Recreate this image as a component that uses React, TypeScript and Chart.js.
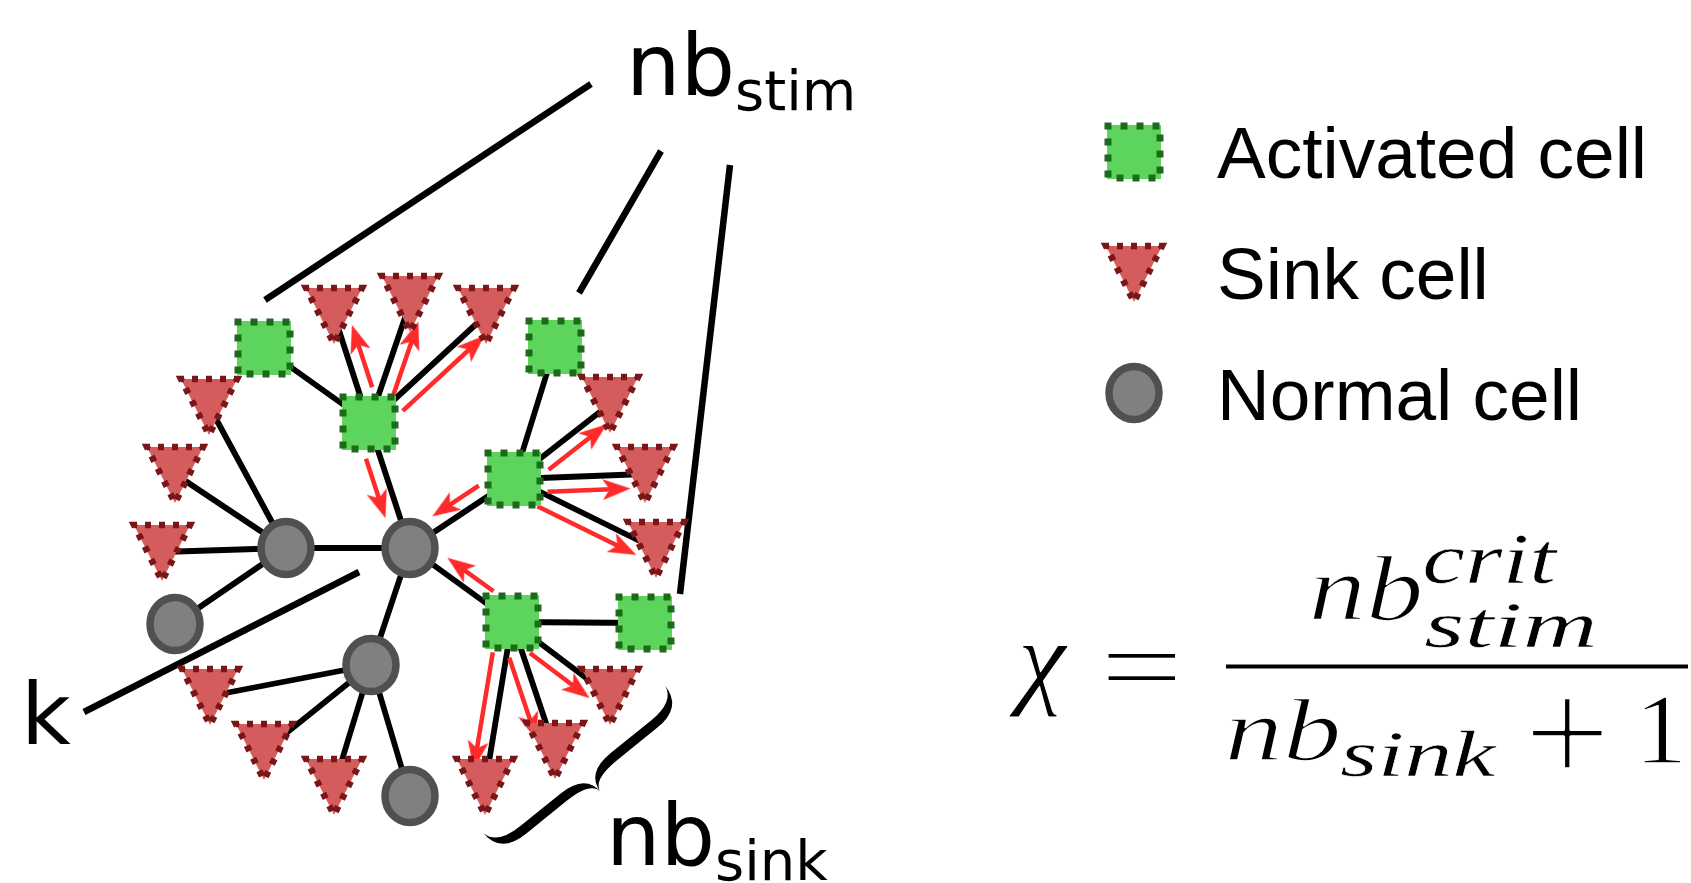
import React, { useEffect, useRef } from 'react';
import { Chart, registerables } from 'chart.js';

Chart.register(...registerables);

const WIDTH = 1691;
const HEIGHT = 883;

// ---- diagram data (positions in diagram units) ----
const activatedIds = ['A1', 'A2', 'A3', 'A4', 'A5', 'A6'];
const activatedX = [264, 369, 555, 514, 512, 645];
const activatedY = [348, 423, 347, 479, 622, 623];

const sinkIds = ['S1', 'S2', 'S3', 'S4', 'S5', 'S6', 'S7', 'S8', 'S9', 'S10', 'S11', 'S12', 'S13', 'S14', 'S15'];
const sinkX = [209, 175, 162, 334, 410, 486, 610, 645, 656, 210, 264, 334, 485, 555, 610];
const sinkY = [406, 474, 552, 315, 303, 315, 404, 474, 549, 696, 751, 786, 786, 750, 696];

const normalIds = ['N1', 'N2', 'N3', 'N4', 'N5'];
const normalX = [286, 410, 175, 371, 410];
const normalY = [548, 548, 624, 665, 796];

const edgeFrom = ['A1', 'A2', 'A2', 'A2', 'A2', 'N1', 'N1', 'N1', 'N1', 'N1', 'A3', 'A4', 'A4', 'A4', 'A4', 'N2', 'N2', 'A5', 'A5', 'A5', 'A5', 'N4', 'N4', 'N4', 'N4'];
const edgeTo = ['A2', 'S4', 'S5', 'S6', 'N2', 'S1', 'S2', 'S3', 'N2', 'N3', 'A4', 'S7', 'S8', 'S9', 'N2', 'A5', 'N4', 'A6', 'S13', 'S14', 'S15', 'S10', 'S11', 'S12', 'N5'];

const flowFrom = ['A2', 'A2', 'A2', 'A2', 'A4', 'A4', 'A4', 'A4', 'A5', 'A5', 'A5', 'A5'];
const flowTo = ['S4', 'S5', 'S6', 'N2', 'S7', 'S8', 'S9', 'N2', 'N2', 'S13', 'S14', 'S15'];

const pointerFromX = [591, 661, 730, 359];
const pointerFromY = [84, 151, 165, 572];
const pointerToX = [265, 579, 680, 84];
const pointerToY = [300, 293, 594, 712];

const legendLabels = ['Activated cell', 'Sink cell', 'Normal cell'];
const legendMarkerX = [1134, 1134, 1134];
const legendMarkerY = [152, 273, 393];
const legendBaselines = [178, 299, 420];
const legendTextX = 1217;

const labelMain = ['nb', 'k', 'nb'];
const labelSub = ['stim', '', 'sink'];
const labelX = [626, 21, 606];
const labelBaseline = [95, 744, 865];

const formulaTexts = ['χ', '=', 'nb', 'crit', 'stim', 'nb', 'sink', '+', '1'];
const formulaItalic = [true, false, true, true, true, true, true, false, false];
const formulaSize = [100, 100, 100, 70, 70, 100, 70, 100, 100];
const formulaThin = [1.0, 1.6, 1.8, 0.6, 0.6, 1.8, 0.6, 2.2, 1.6];
const formulaBoxes = [
  [1008, 645, 1069, 716],
  [1106, 652, 1177, 680],
  [1312, 556, 1420, 621],
  [1425, 535, 1558, 584],
  [1424, 603, 1594, 648],
  [1228, 699, 1338, 761],
  [1340, 730, 1498, 777],
  [1530, 697, 1604, 769],
  [1643, 698, 1681, 763],
];
const fractionBar = [1226, 1688, 666.5];

const braceEnds = [[485, 835], [667, 688]];
const braceDepth = 40;

// ---- helpers ----
function makeCanvas(w: number, h: number, draw: (c: CanvasRenderingContext2D) => void) {
  const cv = document.createElement('canvas');
  cv.width = w;
  cv.height = h;
  const c = cv.getContext('2d') as CanvasRenderingContext2D;
  draw(c);
  return cv;
}

function makeMarkers() {
  const square = makeCanvas(64, 64, (c) => {
    c.fillStyle = '#5dd55d';
    c.fillRect(5, 5, 54, 54);
    c.strokeStyle = '#1d6a1d';
    c.lineWidth = 7;
    c.setLineDash([7, 9]);
    c.lineDashOffset = 3.5;
    c.strokeRect(6, 6, 52, 52);
  });
  const triangle = makeCanvas(66, 66, (c) => {
    c.beginPath();
    c.moveTo(5, 6);
    c.lineTo(61, 6);
    c.lineTo(33, 62);
    c.closePath();
    c.fillStyle = '#d45c5c';
    c.fill();
    c.strokeStyle = '#7a1518';
    c.lineWidth = 6.5;
    c.lineJoin = 'miter';
    c.setLineDash([6, 8]);
    c.lineDashOffset = 3;
    c.stroke();
  });
  const circle = makeCanvas(64, 68, (c) => {
    c.beginPath();
    c.ellipse(32, 34, 25, 26.5, 0, 0, Math.PI * 2);
    c.fillStyle = '#808080';
    c.fill();
    c.strokeStyle = '#505050';
    c.lineWidth = 7.5;
    c.stroke();
  });
  const head = makeCanvas(28, 21, (c) => {
    c.beginPath();
    c.moveTo(28, 10.5);
    c.lineTo(0, 0);
    c.lineTo(7, 10.5);
    c.lineTo(0, 21);
    c.closePath();
    c.fillStyle = '#ff2a2a';
    c.fill();
  });
  return { square, triangle, circle, head };
}

function nodeLookup() {
  const m: Record<string, { x: number; y: number; kind: string }> = {};
  activatedIds.forEach((id, i) => (m[id] = { x: activatedX[i], y: activatedY[i], kind: 'activated' }));
  sinkIds.forEach((id, i) => (m[id] = { x: sinkX[i], y: sinkY[i], kind: 'sink' }));
  normalIds.forEach((id, i) => (m[id] = { x: normalX[i], y: normalY[i], kind: 'normal' }));
  return m;
}

function fitText(ctx: CanvasRenderingContext2D, text: string, font: string, box: number[], thin: number) {
  ctx.font = font;
  const m = ctx.measureText(text);
  const w = m.actualBoundingBoxLeft + m.actualBoundingBoxRight;
  const h = m.actualBoundingBoxAscent + m.actualBoundingBoxDescent;
  const sx = (box[2] - box[0]) / w;
  const sy = (box[3] - box[1]) / h;
  ctx.save();
  ctx.translate(box[0], box[1]);
  ctx.scale(sx, sy);
  ctx.fillStyle = '#000';
  ctx.fillText(text, m.actualBoundingBoxLeft, m.actualBoundingBoxAscent);
  if (thin > 0) {
    ctx.strokeStyle = '#fff';
    ctx.lineWidth = thin;
    ctx.lineJoin = 'round';
    ctx.strokeText(text, m.actualBoundingBoxLeft, m.actualBoundingBoxAscent);
  }
  ctx.restore();
}

function drawBrace(ctx: CanvasRenderingContext2D, x1: number, y1: number, x2: number, y2: number, D: number) {
  const L = Math.hypot(x2 - x1, y2 - y1);
  const ang = Math.atan2(y2 - y1, x2 - x1);
  const h = D * 0.5;
  const a = L * 0.14;
  const w = 4.8;
  ctx.save();
  ctx.translate(x1, y1);
  ctx.rotate(ang);
  const half = (s: number) => {
    const X = (x: number) => (s > 0 ? x : L - x);
    ctx.beginPath();
    ctx.moveTo(X(0), -3);
    ctx.quadraticCurveTo(X(0), h + w, X(a), h + w);
    ctx.lineTo(X(L / 2 - a), h + w);
    ctx.quadraticCurveTo(X(L / 2), h + w, X(L / 2), D);
    ctx.quadraticCurveTo(X(L / 2), h - w, X(L / 2 - a), h - w);
    ctx.lineTo(X(a), h - w);
    ctx.quadraticCurveTo(X(0) + (s > 0 ? 3 : -3), h - w, X(0), -3);
    ctx.closePath();
    ctx.fill();
  };
  half(1);
  half(-1);
  ctx.restore();
}

export default function App() {
  const ref = useRef<HTMLCanvasElement>(null);

  useEffect(() => {
    const canvas = ref.current;
    if (!canvas) return;
    const mk = makeMarkers();
    const nodes = nodeLookup();

    const edgeData: any[] = [];
    edgeFrom.forEach((f, i) => {
      const a = nodes[f];
      const b = nodes[edgeTo[i]];
      edgeData.push({ x: a.x, y: a.y }, { x: b.x, y: b.y }, { x: b.x, y: null });
    });

    const pointerData: any[] = [];
    pointerFromX.forEach((_, i) => {
      pointerData.push(
        { x: pointerFromX[i], y: pointerFromY[i] },
        { x: pointerToX[i], y: pointerToY[i] },
        { x: pointerToX[i], y: null }
      );
    });

    const shaftData: any[] = [];
    const headData: any[] = [];
    const headRot: number[] = [];
    const OFF = 14;
    const HEAD = 28;
    flowFrom.forEach((f, i) => {
      const a = nodes[f];
      const b = nodes[flowTo[i]];
      const dx = b.x - a.x;
      const dy = b.y - a.y;
      const len = Math.hypot(dx, dy);
      const ux = dx / len;
      const uy = dy / len;
      const nx = -uy;
      const ny = ux;
      const d0 = 33;
      const d1 = len - (b.kind === 'normal' ? 36 : 15);
      const tail = { x: a.x + ux * d0 + nx * OFF, y: a.y + uy * d0 + ny * OFF };
      const tip = { x: a.x + ux * d1 + nx * OFF, y: a.y + uy * d1 + ny * OFF };
      shaftData.push(tail, { x: tip.x - ux * HEAD * 0.7, y: tip.y - uy * HEAD * 0.7 }, { x: tip.x, y: null });
      headData.push({ x: tip.x - ux * HEAD / 2, y: tip.y - uy * HEAD / 2 });
      headRot.push((Math.atan2(uy, ux) * 180) / Math.PI);
    });

    const textPlugin = {
      id: 'diagramText',
      afterDatasetsDraw(chart: any) {
        const ctx: CanvasRenderingContext2D = chart.ctx;
        const sx = chart.scales.x;
        const sy = chart.scales.y;
        const px = (v: number) => sx.getPixelForValue(v);
        const py = (v: number) => sy.getPixelForValue(v);
        ctx.save();
        ctx.fillStyle = '#000';
        ctx.textAlign = 'left';
        ctx.textBaseline = 'alphabetic';

        drawBrace(ctx, px(braceEnds[0][0]), py(braceEnds[0][1]), px(braceEnds[1][0]), py(braceEnds[1][1]), braceDepth);

        labelMain.forEach((t, i) => {
          ctx.font = '86px "DejaVu Sans"';
          const x = px(labelX[i]);
          const y = py(labelBaseline[i]);
          ctx.fillText(t, x, y);
          if (labelSub[i]) {
            const w = ctx.measureText(t).width;
            ctx.font = '56px "DejaVu Sans"';
            ctx.fillText(labelSub[i], x + w, y + 15);
          }
        });

        ctx.font = '73px "Liberation Sans"';
        legendLabels.forEach((t, i) => {
          ctx.fillText(t, px(legendTextX), py(legendBaselines[i]));
        });

        formulaTexts.forEach((t, i) => {
          const b = formulaBoxes[i];
          const font = `${formulaItalic[i] ? 'italic ' : ''}${formulaSize[i]}px "Liberation Serif"`;
          fitText(ctx, t, font, [px(b[0]), py(b[1]), px(b[2]), py(b[3])], formulaThin[i]);
        });
        ctx.fillStyle = '#000';
        ctx.fillRect(px(fractionBar[0]), py(fractionBar[2]) - 2, px(fractionBar[1]) - px(fractionBar[0]), 4);
        ctx.restore();
      },
    };

    const chart = new Chart(canvas, {
      type: 'scatter',
      data: {
        datasets: [
          {
            data: pointerData,
            showLine: true,
            spanGaps: false,
            borderColor: '#000',
            borderWidth: 6.5,
            pointRadius: 0,
            order: 6,
          } as any,
          {
            data: edgeData,
            showLine: true,
            spanGaps: false,
            borderColor: '#000',
            borderWidth: 5.8,
            pointRadius: 0,
            order: 5,
          },
          {
            data: shaftData,
            showLine: true,
            spanGaps: false,
            borderColor: '#ff2a2a',
            borderWidth: 4.5,
            pointRadius: 0,
            order: 4,
          },
          {
            data: headData,
            pointStyle: mk.head as any,
            pointRotation: headRot,
            pointRadius: 20,
            order: 3,
          },
          {
            data: normalIds.map((_, i) => ({ x: normalX[i], y: normalY[i] })),
            pointStyle: mk.circle as any,
            pointRadius: 30,
            order: 2,
          },
          {
            data: activatedIds.map((_, i) => ({ x: activatedX[i], y: activatedY[i] })),
            pointStyle: mk.square as any,
            pointRadius: 30,
            order: 1,
          },
          {
            data: sinkIds.map((_, i) => ({ x: sinkX[i], y: sinkY[i] })),
            pointStyle: mk.triangle as any,
            pointRadius: 30,
            order: 0,
          },
          {
            data: legendMarkerX.map((x, i) => ({ x, y: legendMarkerY[i] })),
            pointStyle: [mk.square, mk.triangle, mk.circle] as any,
            pointRadius: 30,
            order: 0,
          },
        ],
      },
      options: {
        animation: false,
        responsive: false,
        maintainAspectRatio: false,
        events: [],
        layout: { padding: 0, autoPadding: false },
        scales: {
          x: { type: 'linear', min: 0, max: WIDTH, display: false },
          y: { type: 'linear', min: 0, max: HEIGHT, reverse: true, display: false },
        },
        plugins: { legend: { display: false }, tooltip: { enabled: false } },
      },
      plugins: [textPlugin],
    });
    return () => chart.destroy();
  }, []);

  return (
    <div style={{ position: 'fixed', left: 0, top: 0, width: WIDTH, height: HEIGHT, background: '#fff' }}>
      <canvas ref={ref} width={WIDTH} height={HEIGHT} style={{ display: 'block', width: WIDTH, height: HEIGHT }} />
    </div>
  );
}
